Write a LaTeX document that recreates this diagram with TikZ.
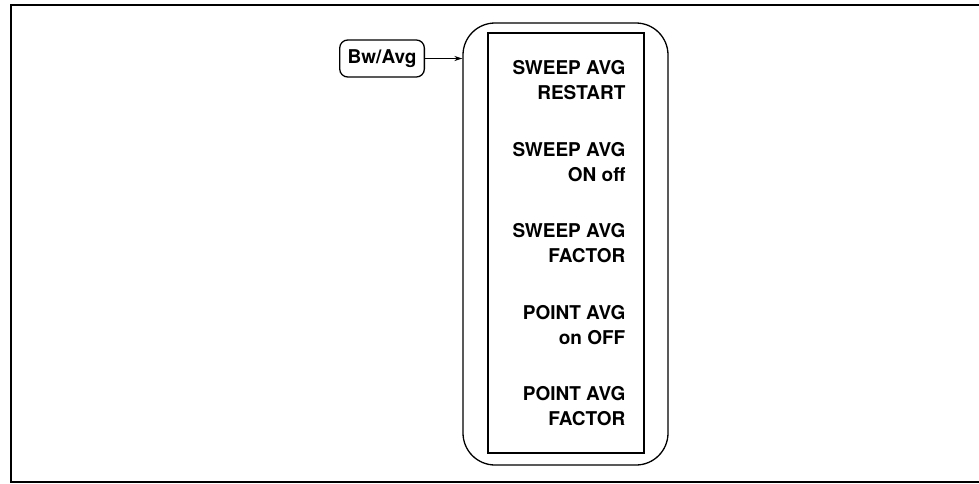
\documentclass[tikz,border=0pt]{standalone}
\usepackage{fontspec}
\setmainfont{TeX Gyre Heros}
\usetikzlibrary{positioning, calc, arrows.meta}

\tikzset{
    hardkey/.style={draw, line width=1.3pt, rounded corners=8pt, minimum height=37pt,
        inner xsep=8pt, font=\fontsize{19}{25}\selectfont\bfseries},
    softkey/.style={anchor=north east, inner sep=0pt, align=right,
        font=\fontsize{19}{25}\selectfont\bfseries},
}

\begin{document}
\begin{tikzpicture}[x=1pt, y=1pt, line width=1.3pt]
    \useasboundingbox (0,0) rectangle (979,-483);

    % --- Outer frame (open on the right) ---
    \draw[line width=2pt] (979,-5) -- (11,-5) -- (11,-483);
    \draw[line width=2pt] (11,-482) -- (979,-482);

    % --- Hardkey ---
    \node[hardkey, anchor=east] (bwavg) at (425,-58.5) {Bw/Avg};

    % --- Softkey menu: bezel and screen ---
    \node[draw, rounded corners=32pt, minimum width=205pt, minimum height=442pt,
          inner sep=0pt] (bezel) at (565.5,-244) {};
    \node[draw, minimum width=156pt, minimum height=420pt, inner sep=0pt]
          (screen) at (566,-243) {};

    % Arrow from hardkey to menu
    \draw[-{Stealth[length=8pt, width=5pt]}] (bwavg.east) -- (bwavg.east -| bezel.west);

    % --- Softkey labels ---
    \node[softkey] (restart) at (626,-60) {SWEEP AVG\\RESTART};
    \node[softkey] (sweeponoff) at (626,-141.5) {SWEEP AVG\\ON off};
    \node[softkey] (sweepfactor) at (626,-223) {SWEEP AVG\\FACTOR};
    \node[softkey] (pointonoff) at (626,-304.5) {POINT AVG\\on OFF};
    \node[softkey] (pointfactor) at (626,-386) {POINT AVG\\FACTOR};

\end{tikzpicture}
\end{document}
